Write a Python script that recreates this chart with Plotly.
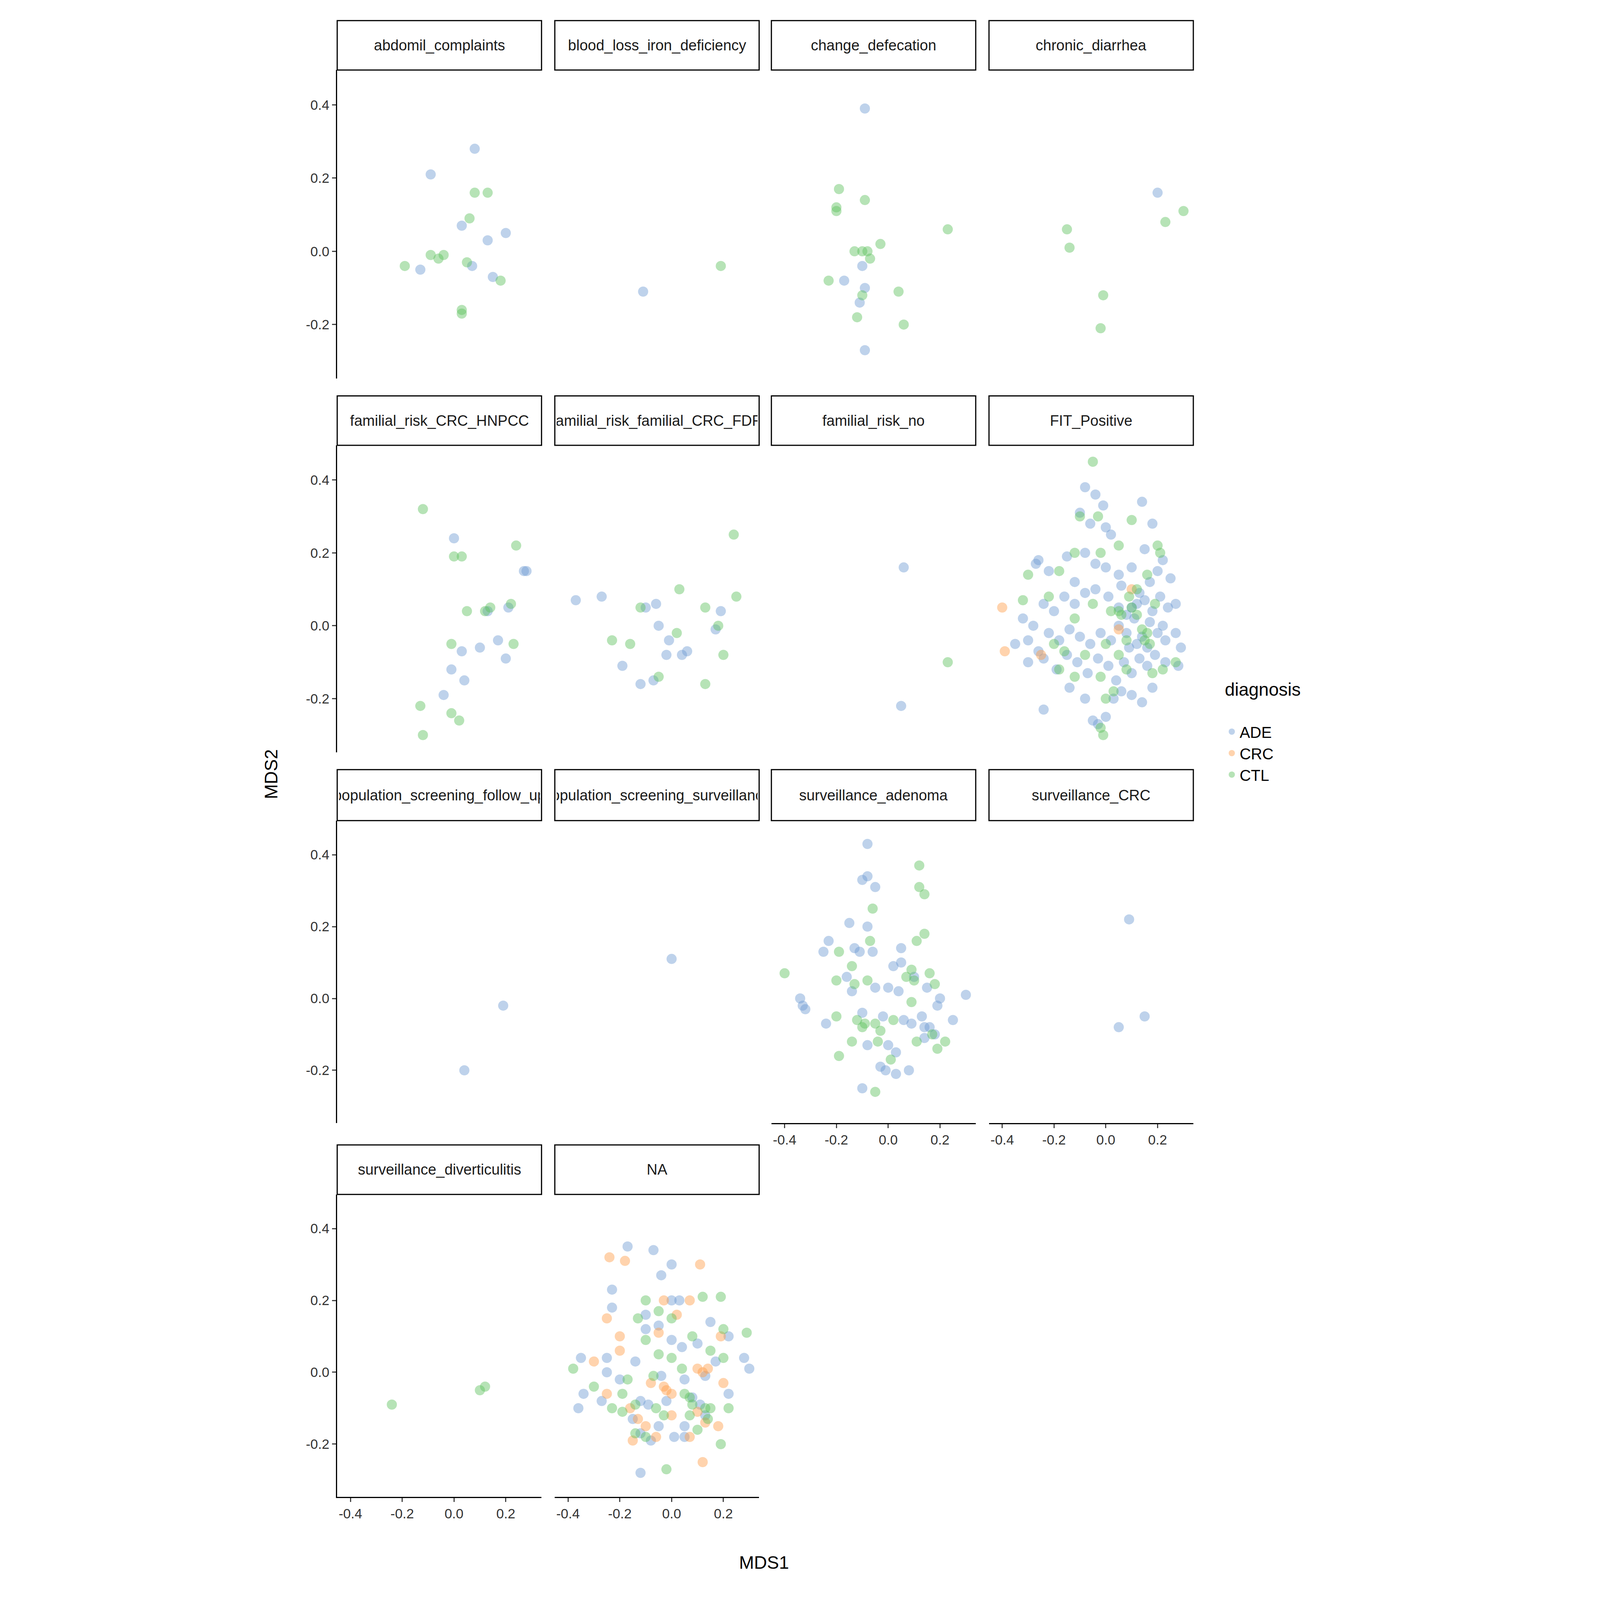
import plotly.graph_objects as go

panels = ["abdomil_complaints", "blood_loss_iron_deficiency", "change_defecation", "chronic_diarrhea",
          "familial_risk_CRC_HNPCC", "familial_risk_familial_CRC_FDR", "familial_risk_no", "FIT_Positive",
          "population_screening_follow_up", "population_screening_surveillance", "surveillance_adenoma", "surveillance_CRC",
          "surveillance_diverticulitis", "NA"]
groups = ["ADE", "CRC", "CTL"]
colors = {"ADE": "#6f9bd3", "CRC": "#ff9e4a", "CTL": "#5dc05d"}

data = {
 "abdomil_complaints": {
  "ADE": [(-0.09,0.21),(0.08,0.28),(0.03,0.07),(0.07,-0.04),(0.13,0.03),(0.2,0.05),(0.15,-0.07),(-0.13,-0.05)],
  "CTL": [(-0.19,-0.04),(-0.09,-0.01),(-0.06,-0.02),(-0.04,-0.01),(0.06,0.09),(0.08,0.16),(0.13,0.16),(0.05,-0.03),(0.03,-0.16),(0.03,-0.17),(0.18,-0.08)]},
 "blood_loss_iron_deficiency": {"ADE": [(-0.11,-0.11)], "CTL": [(0.19,-0.04)]},
 "change_defecation": {
  "ADE": [(-0.09,0.39),(-0.1,-0.04),(-0.09,-0.1),(-0.11,-0.14),(-0.17,-0.08),(-0.09,-0.27)],
  "CTL": [(-0.19,0.17),(-0.2,0.12),(-0.2,0.11),(-0.09,0.14),(-0.13,0.0),(-0.1,0.0),(-0.08,0.0),(-0.07,-0.02),(-0.03,0.02),(-0.23,-0.08),(-0.12,-0.18),(-0.1,-0.12),(0.04,-0.11),(0.06,-0.2),(0.23,0.06)]},
 "chronic_diarrhea": {
  "ADE": [(0.2,0.16)],
  "CTL": [(-0.15,0.06),(-0.14,0.01),(0.23,0.08),(0.3,0.11),(-0.01,-0.12),(-0.02,-0.21)]},
 "familial_risk_CRC_HNPCC": {
  "ADE": [(0.0,0.24),(0.03,-0.07),(0.04,-0.15),(-0.01,-0.12),(-0.04,-0.19),(0.1,-0.06),(0.17,-0.04),(0.2,-0.09),(0.21,0.05),(0.27,0.15),(0.28,0.15),(0.13,0.04)],
  "CTL": [(-0.12,0.32),(0.0,0.19),(0.03,0.19),(-0.01,-0.05),(0.05,0.04),(0.12,0.04),(0.14,0.05),(0.22,0.06),(0.24,0.22),(0.23,-0.05),(-0.13,-0.22),(-0.12,-0.3),(-0.01,-0.24),(0.02,-0.26)]},
 "familial_risk_familial_CRC_FDR": {
  "ADE": [(-0.37,0.07),(-0.27,0.08),(-0.1,0.05),(-0.06,0.06),(-0.05,0.0),(-0.01,-0.04),(-0.02,-0.08),(0.06,-0.07),(-0.19,-0.11),(-0.12,-0.16),(-0.07,-0.15),(0.04,-0.08),(0.19,0.04),(0.17,-0.01)],
  "CTL": [(-0.23,-0.04),(-0.16,-0.05),(-0.12,0.05),(-0.05,-0.14),(0.03,0.1),(0.02,-0.02),(0.13,0.05),(0.18,0.0),(0.2,-0.08),(0.25,0.08),(0.24,0.25),(0.13,-0.16)]},
 "familial_risk_no": {"ADE": [(0.06,0.16),(0.05,-0.22)], "CTL": [(0.23,-0.1)]},
 "FIT_Positive": {
  "ADE": [(-0.1,0.31),(-0.08,0.38),(-0.04,0.36),(-0.06,0.28),(-0.01,0.33),(0.0,0.27),(0.02,0.25),(0.14,0.34),(0.18,0.28),(0.22,0.18),(0.25,0.13),
          (-0.27,0.17),(-0.26,0.18),(-0.22,0.15),(-0.15,0.19),(-0.08,0.2),(-0.04,0.17),(0.0,0.16),(0.05,0.14),(0.1,0.16),(0.15,0.21),(0.2,0.15),
          (-0.32,0.02),(-0.28,0.0),(-0.24,0.06),(-0.2,0.04),(-0.16,0.08),(-0.12,0.06),(-0.08,0.09),(-0.04,0.1),(0.01,0.08),(0.06,0.11),(0.1,0.05),(0.13,0.09),(0.17,0.12),(0.21,0.08),(0.24,0.05),(0.27,0.06),
          (-0.35,-0.05),(-0.3,-0.04),(-0.26,-0.07),(-0.22,-0.02),(-0.18,-0.04),(-0.14,-0.01),(-0.1,-0.03),(-0.06,-0.05),(-0.02,-0.02),(0.02,-0.04),(0.05,0.0),(0.08,-0.02),(0.11,0.02),(0.14,-0.03),(0.17,0.01),(0.2,-0.02),(0.23,-0.04),(0.27,-0.02),(0.29,-0.06),
          (-0.3,-0.1),(-0.24,-0.09),(-0.19,-0.12),(-0.15,-0.08),(-0.11,-0.1),(-0.07,-0.13),(-0.03,-0.09),(0.01,-0.11),(0.04,-0.15),(0.07,-0.1),(0.1,-0.13),(0.13,-0.09),(0.16,-0.11),(0.19,-0.08),(0.23,-0.1),(0.28,-0.11),
          (-0.24,-0.23),(-0.14,-0.17),(-0.08,-0.2),(-0.05,-0.26),(-0.03,-0.27),(0.0,-0.25),(0.03,-0.2),(0.06,-0.18),(0.1,-0.19),(0.14,-0.21),(0.18,-0.17),
          (0.08,0.03),(0.12,0.06),(0.15,0.07),(0.18,0.04),(0.09,-0.06),(0.12,-0.05),(0.16,-0.06),(0.05,0.05),(-0.12,0.12),(0.22,0.0)],
  "CRC": [(-0.4,0.05),(-0.39,-0.07),(-0.25,-0.08),(0.1,0.1),(0.05,-0.01)],
  "CTL": [(-0.05,0.45),(-0.1,0.3),(-0.03,0.3),(0.1,0.29),(0.05,0.22),(-0.02,0.2),(-0.12,0.2),(-0.18,0.15),(-0.3,0.14),(-0.32,0.07),(-0.22,0.08),
          (0.2,0.22),(0.21,0.2),(0.16,0.14),(0.12,0.1),(0.09,0.08),(0.05,0.04),(0.02,0.04),(-0.05,0.06),(-0.12,0.02),(-0.2,-0.05),(-0.16,-0.07),
          (0.06,0.03),(0.1,0.05),(0.12,0.03),(0.14,-0.01),(0.16,-0.02),(0.15,-0.04),(0.17,-0.05),(0.19,0.06),(0.08,-0.04),(0.05,-0.08),(0.0,-0.05),
          (-0.08,-0.08),(-0.12,-0.14),(-0.02,-0.14),(0.03,-0.18),(0.0,-0.2),(-0.02,-0.28),(-0.01,-0.3),(0.08,-0.12),(0.22,-0.12),(0.27,-0.1),(0.18,-0.13),(-0.18,-0.12)]},
 "population_screening_follow_up": {"ADE": [(0.19,-0.02),(0.04,-0.2)]},
 "population_screening_surveillance": {"ADE": [(0.0,0.11)]},
 "surveillance_adenoma": {
  "ADE": [(-0.08,0.43),(-0.1,0.33),(-0.08,0.34),(-0.05,0.31),(-0.15,0.21),(-0.08,0.2),(-0.23,0.16),(-0.25,0.13),(-0.13,0.14),(-0.11,0.13),(-0.06,0.13),(0.05,0.14),
          (0.05,0.1),(0.02,0.09),(-0.16,0.06),(-0.34,0.0),(-0.33,-0.02),(-0.32,-0.03),(-0.14,0.02),(-0.05,0.03),(0.0,0.03),(0.04,0.02),(0.1,0.06),(0.15,0.03),
          (0.2,0.0),(0.19,-0.02),(0.25,-0.06),(0.3,0.01),(-0.24,-0.07),(-0.1,-0.04),(-0.02,-0.05),(0.06,-0.06),(0.09,-0.07),(0.13,-0.05),(0.16,-0.08),(0.18,-0.1),
          (0.14,-0.11),(-0.08,-0.13),(0.0,-0.13),(0.03,-0.15),(-0.03,-0.19),(-0.01,-0.2),(0.03,-0.21),(0.08,-0.2),(-0.1,-0.25),(0.14,-0.08)],
  "CTL": [(0.12,0.37),(0.14,0.29),(0.12,0.31),(-0.06,0.25),(-0.07,0.16),(0.14,0.18),(0.11,0.16),(0.09,0.08),(0.16,0.07),(-0.19,0.13),(-0.14,0.09),(-0.4,0.07),
          (-0.2,0.05),(-0.13,0.04),(-0.08,0.05),(0.18,0.04),(0.1,0.05),(-0.2,-0.05),(-0.12,-0.06),(-0.05,-0.07),(0.02,-0.06),(0.09,-0.01),(-0.03,-0.09),
          (-0.1,-0.08),(-0.14,-0.12),(-0.19,-0.16),(-0.04,-0.12),(-0.05,-0.26),(0.01,-0.17),(0.17,-0.1),(0.19,-0.14),(0.22,-0.12),(0.11,-0.12),(-0.09,-0.07),(0.07,0.06)]},
 "surveillance_CRC": {"ADE": [(0.09,0.22),(0.15,-0.05),(0.05,-0.08)]},
 "surveillance_diverticulitis": {"CTL": [(-0.24,-0.09),(0.1,-0.05),(0.12,-0.04)]},
 "NA": {
  "ADE": [(-0.17,0.35),(-0.07,0.34),(0.0,0.3),(-0.23,0.23),(-0.04,0.27),(-0.23,0.18),(0.0,0.2),(0.03,0.2),(-0.1,0.16),(-0.05,0.13),(-0.1,0.12),(0.15,0.14),
          (0.22,0.1),(0.0,0.09),(0.04,0.07),(0.1,0.08),(-0.35,0.04),(-0.25,0.04),(0.28,0.04),(0.3,0.01),(-0.25,0.0),(-0.2,-0.02),(-0.14,0.03),(-0.04,-0.01),
          (0.05,-0.02),(0.13,-0.01),(0.17,0.03),(-0.34,-0.06),(-0.27,-0.08),(-0.12,-0.08),(-0.09,-0.09),(-0.02,-0.08),(0.08,-0.07),(0.11,-0.09),(-0.36,-0.1),
          (-0.15,-0.13),(-0.12,-0.17),(-0.05,-0.15),(0.05,-0.15),(-0.08,-0.19),(0.01,-0.18),(0.05,-0.18),(-0.12,-0.28),(0.13,-0.12),(0.22,-0.06)],
  "CRC": [(-0.24,0.32),(-0.18,0.31),(0.11,0.3),(-0.03,0.2),(0.07,0.2),(0.02,0.16),(-0.25,0.15),(-0.2,0.1),(-0.05,0.11),(0.19,0.1),(-0.3,0.03),(-0.2,0.06),
          (0.1,0.01),(0.12,0.0),(0.14,0.01),(-0.08,-0.03),(-0.03,-0.04),(0.2,-0.03),(-0.25,-0.06),(-0.16,-0.1),(-0.13,-0.13),(0.0,-0.12),(0.1,-0.11),(0.13,-0.14),
          (0.18,-0.15),(-0.1,-0.15),(-0.06,-0.18),(0.07,-0.18),(-0.02,-0.05),(0.12,-0.25),(-0.15,-0.19),(0.0,-0.06)],
  "CTL": [(-0.1,0.2),(-0.05,0.17),(0.12,0.21),(0.19,0.21),(-0.13,0.15),(0.0,0.15),(0.2,0.12),(0.29,0.11),(-0.1,0.09),(0.08,0.1),(0.15,0.06),
          (-0.38,0.01),(-0.3,-0.04),(-0.05,0.05),(0.0,0.04),(0.2,0.04),(0.04,0.01),(-0.17,-0.02),(-0.07,-0.01),(-0.19,-0.06),(0.05,-0.06),(0.07,-0.07),
          (-0.23,-0.1),(-0.19,-0.11),(-0.14,-0.09),(-0.06,-0.1),(0.08,-0.09),(0.13,-0.1),(0.14,-0.13),(0.22,-0.1),(-0.14,-0.17),(-0.1,-0.18),
          (-0.03,-0.12),(0.1,-0.16),(0.19,-0.2),(-0.02,-0.27),(0.15,-0.1),(0.07,-0.12)]},
}

S = 4075 / 1560
fx = lambda p: p / 1560
fy = lambda p: 1 - p / 1100
colx = [(327, 527), (540, 740), (752, 952), (965, 1165)]
rowy = [(12, 46, 258), (270, 304, 515), (527, 562, 770), (785, 819, 1027)]
bottom = {12, 13, 10, 11}
FONT = "Liberation Sans"
MS = 26

fig = go.Figure()
# legend entries (ordered ADE, CRC, CTL)
for g in groups:
    fig.add_trace(go.Scatter(x=[None], y=[None], mode="markers", name=g, legendgroup=g, showlegend=True,
                             marker=dict(color=colors[g], size=MS, opacity=0.45, line=dict(width=0))))
layout = {}
anns = []
shapes = []
for i, pname in enumerate(panels):
    r, c = divmod(i, 4)
    n = i + 1
    xa = "x" if n == 1 else f"x{n}"
    ya = "y" if n == 1 else f"y{n}"
    for g in groups:
        pts = data[pname].get(g, [])
        if not pts:
            continue
        fig.add_trace(go.Scatter(
            x=[p[0] for p in pts], y=[p[1] for p in pts], mode="markers", xaxis=xa, yaxis=ya,
            name=g, legendgroup=g, showlegend=False,
            marker=dict(color=colors[g], size=MS, opacity=0.45, line=dict(width=0))))
    x0, x1 = colx[c]
    st, t, b = rowy[r]
    isb = i in bottom
    isl = c == 0
    tickfont = dict(size=35, color="#333333", family=FONT)
    layout["xaxis" if n == 1 else f"xaxis{n}"] = dict(
        domain=[fx(x0), fx(x1)], anchor=ya, range=[-0.451, 0.338], tickvals=[-0.4, -0.2, 0, 0.2],
        ticktext=["-0.4", "-0.2", "0.0", "0.2"], showticklabels=isb, ticks="outside" if isb else "",
        ticklen=10, tickwidth=3, showline=isb, linewidth=3, linecolor="black", showgrid=False,
        zeroline=False, tickfont=tickfont)
    layout["yaxis" if n == 1 else f"yaxis{n}"] = dict(
        domain=[fy(b), fy(t)], anchor=xa, range=[-0.347, 0.495], tickvals=[-0.2, 0, 0.2, 0.4],
        ticktext=["-0.2", "0.0", "0.2", "0.4"], showticklabels=isl, ticks="outside" if isl else "",
        ticklen=10, tickwidth=3, showline=isl, linewidth=3, linecolor="black", showgrid=False,
        zeroline=False, tickfont=tickfont)
    shapes.append(dict(type="rect", xref="paper", yref="paper", x0=fx(x0), x1=fx(x1), y0=fy(t), y1=fy(st),
                       line=dict(color="black", width=3), fillcolor="white", layer="above"))
    anns.append(dict(text=pname, x=fx((x0 + x1) / 2), y=fy((st + t) / 2), xref="paper", yref="paper",
                     xanchor="center", yanchor="middle", showarrow=False,
                     width=(x1 - x0) * S - 8, borderpad=0,
                     font=dict(size=38, color="#1a1a1a", family=FONT), align="center"))

anns.append(dict(text="MDS1", x=fx(745), y=fy(1072), xref="paper", yref="paper", showarrow=False,
                 xanchor="center", yanchor="middle", font=dict(size=46, color="black", family=FONT)))
anns.append(dict(text="MDS2", x=fx(262), y=fy(530), xref="paper", yref="paper", showarrow=False, textangle=-90,
                 xanchor="center", yanchor="middle", font=dict(size=46, color="black", family=FONT)))

fig.update_layout(**layout)
fig.update_layout(
    autosize=True, margin=dict(l=0, r=0, t=0, b=0), plot_bgcolor="white", paper_bgcolor="white",
    annotations=anns, shapes=shapes,
    legend=dict(x=fx(1195), y=fy(460), xanchor="left", yanchor="top", traceorder="normal",
                title=dict(text="diagnosis<br> ", font=dict(size=46, color="black", family=FONT)),
                font=dict(size=40, color="black", family=FONT), itemsizing="trace"))
fig.write_html("out.html", default_width="100%", default_height="100vh")
